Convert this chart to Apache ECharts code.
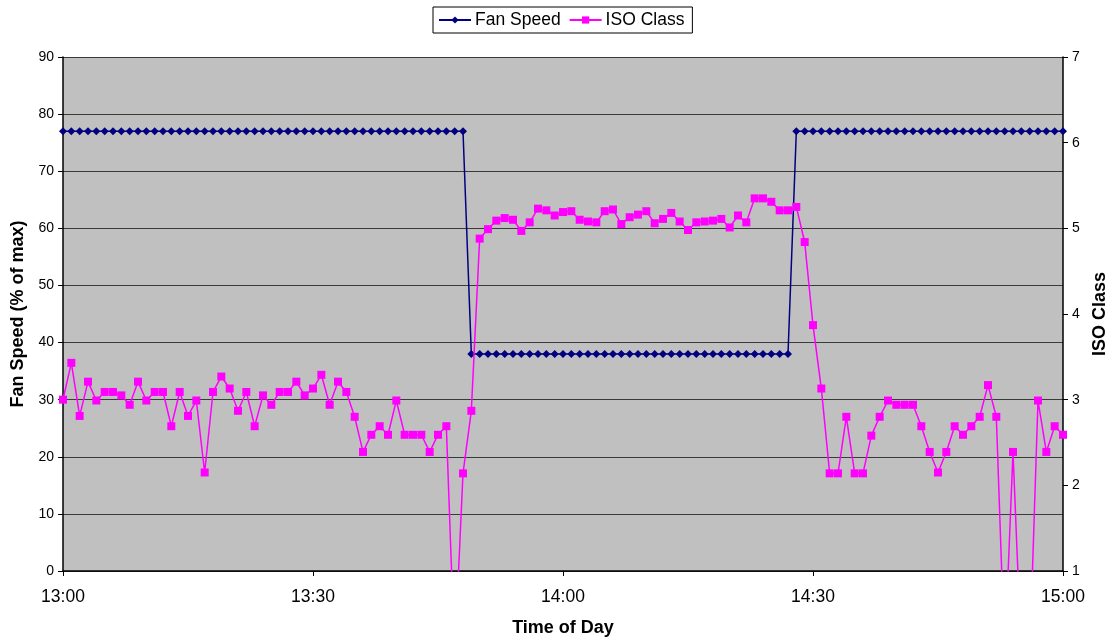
<!DOCTYPE html>
<html>
<head>
<meta charset="utf-8">
<script src="https://cdn.jsdelivr.net/npm/echarts@6/dist/echarts.min.js"></script>
<style>
html,body{margin:0;padding:0;background:#fff;}
#chart{width:1110px;height:639px;}
</style>
</head>
<body>
<div id="chart"></div>
<script>
// Time of day, one point per minute from 13:00 to 15:00
var timeLabels = [];
for (var h = 13; h <= 15; h++) {
  for (var m = 0; m < 60; m++) {
    if (h === 15 && m > 0) break;
    timeLabels.push(h + ':' + (m < 10 ? '0' + m : m));
  }
}

// Fan speed (% of max), left axis
var fanSpeed = [
  77,77,77,77,77,77,77,77,77,77, 77,77,77,77,77,77,77,77,77,77,
  77,77,77,77,77,77,77,77,77,77, 77,77,77,77,77,77,77,77,77,77,
  77,77,77,77,77,77,77,77,77,38, 38,38,38,38,38,38,38,38,38,38,
  38,38,38,38,38,38,38,38,38,38, 38,38,38,38,38,38,38,38,38,38,
  38,38,38,38,38,38,38,38,77,77, 77,77,77,77,77,77,77,77,77,77,
  77,77,77,77,77,77,77,77,77,77, 77,77,77,77,77,77,77,77,77,77,
  77
];

// ISO class, right axis (values below 1 fall off the plot)
var isoClass = [
  3.00,3.43,2.81,3.21,2.99,3.09,3.09,3.05,2.94,3.21,
  2.99,3.09,3.09,2.69,3.09,2.81,2.99,2.15,3.09,3.27,
  3.13,2.87,3.09,2.69,3.05,2.94,3.09,3.09,3.21,3.05,
  3.13,3.29,2.94,3.21,3.09,2.80,2.39,2.59,2.69,2.59,
  2.99,2.59,2.59,2.59,2.39,2.59,2.69,0.00,2.14,2.87,
  4.88,4.99,5.09,5.12,5.10,4.97,5.07,5.23,5.21,5.15,
  5.19,5.20,5.10,5.08,5.07,5.20,5.22,5.05,5.13,5.16,
  5.20,5.06,5.11,5.18,5.08,4.98,5.07,5.08,5.09,5.11,
  5.01,5.15,5.07,5.35,5.35,5.31,5.21,5.21,5.25,4.84,
  3.87,3.13,2.14,2.14,2.80,2.14,2.14,2.58,2.80,2.99,
  2.94,2.94,2.94,2.69,2.39,2.15,2.39,2.69,2.59,2.69,
  2.80,3.17,2.80,0.00,2.39,0.00,0.00,2.99,2.39,2.69,
  2.59
];

var fontFam = '"Liberation Sans", Arial, sans-serif';
var chart = echarts.init(document.getElementById('chart'), null, {renderer: 'canvas'});
chart.setOption({
  animation: false,
  backgroundColor: '#ffffff',
  textStyle: {fontFamily: fontFam, color: '#000'},
  legend: {
    left: 433, top: 7,
    padding: [4, 8, 4, 5],
    borderColor: '#000', borderWidth: 1,
    backgroundColor: '#fff',
    itemWidth: 32, itemHeight: 9, itemGap: 8,
    textStyle: {fontFamily: fontFam, fontSize: 17.5, color: '#000', padding: [0, 0, 0, -1]},
    data: ['Fan Speed', 'ISO Class']
  },
  grid: {
    left: 63, right: 47, top: 57, bottom: 68,
    outerBoundsMode: 'none',
    containLabel: false,
    show: true, backgroundColor: '#C0C0C0', borderWidth: 0
  },
  xAxis: {
    type: 'category',
    data: timeLabels,
    boundaryGap: false,
    name: 'Time of Day',
    nameLocation: 'middle',
    nameGap: 48,
    nameTextStyle: {fontFamily: fontFam, fontSize: 18, fontWeight: 'bold', color: '#000'},
    axisLine: {lineStyle: {color: '#000', width: 1.5}},
    axisTick: {interval: 29, length: 5, lineStyle: {color: '#000'}},
    axisLabel: {interval: 29, fontSize: 17.5, color: '#000', margin: 17, fontFamily: fontFam},
    splitLine: {show: false}
  },
  yAxis: [{
    type: 'value', min: 0, max: 90, interval: 10,
    name: 'Fan Speed (% of max)',
    nameLocation: 'middle', nameGap: 32,
    nameTextStyle: {fontFamily: fontFam, fontSize: 18, fontWeight: 'bold', color: '#000'},
    axisLine: {show: true, lineStyle: {color: '#000', width: 1.5}},
    axisTick: {show: true, length: 5, lineStyle: {color: '#000'}},
    axisLabel: {fontSize: 14, color: '#000', margin: 9, fontFamily: fontFam},
    splitLine: {show: true, lineStyle: {color: '#3a3a3a', width: 1}}
  }, {
    type: 'value', min: 1, max: 7, interval: 1,
    name: 'ISO Class',
    nameLocation: 'middle', nameGap: 27,
    nameTextStyle: {fontFamily: fontFam, fontSize: 18, fontWeight: 'bold', color: '#000'},
    axisLine: {show: true, lineStyle: {color: '#000', width: 1.5}},
    axisTick: {show: true, length: 5, lineStyle: {color: '#000'}},
    axisLabel: {fontSize: 14, color: '#000', margin: 9, fontFamily: fontFam},
    splitLine: {show: false}
  }],
  series: [{
    name: 'Fan Speed',
    type: 'line',
    yAxisIndex: 0,
    data: fanSpeed,
    symbol: 'diamond', symbolSize: 8,
    showAllSymbol: true,
    lineStyle: {color: '#000080', width: 1.5},
    itemStyle: {color: '#000080'},
    z: 3
  }, {
    name: 'ISO Class',
    type: 'line',
    yAxisIndex: 1,
    data: isoClass,
    symbol: 'rect', symbolSize: 8,
    showAllSymbol: true,
    clip: true,
    lineStyle: {color: '#FF00FF', width: 1.5},
    itemStyle: {color: '#FF00FF'},
    z: 4
  }]
});
</script>
</body>
</html>
